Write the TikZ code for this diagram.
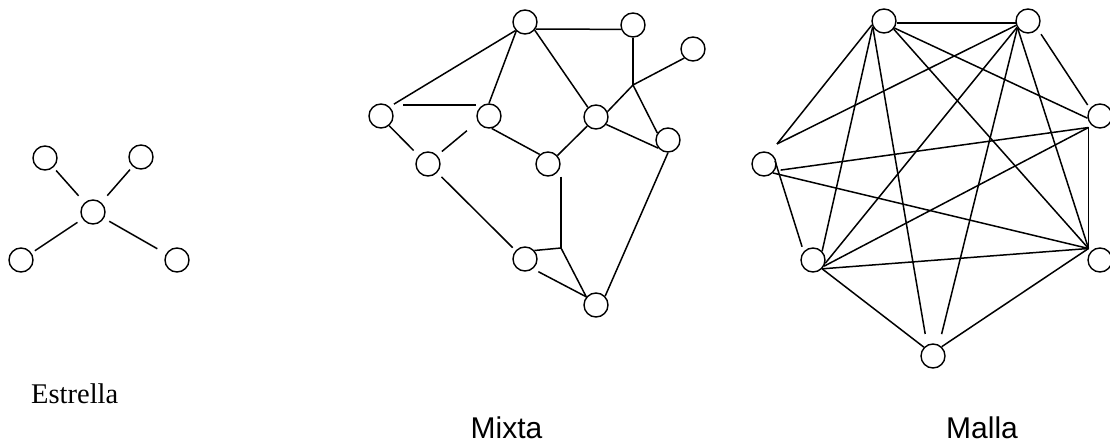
\documentclass[tikz,border=0pt]{standalone}
\usepackage{fontspec}
\setmainfont{Liberation Serif}
\newfontfamily\arialfont{Liberation Sans}
\begin{document}
\begin{tikzpicture}[x=1pt,y=-1pt,
  nd/.style={circle,draw,minimum size=24pt,inner sep=0pt,line width=1.4pt},
  ln/.style={line width=1.5pt},
  lbl/.style={inner sep=0pt}]
\useasboundingbox (0,0) rectangle (1110,443);
% ---------------- Estrella ----------------
\node[nd] (X)  at (93,212) {};
\node[nd] (TL) at (45,158) {};
\node[nd] (TR) at (141,157) {};
\node[nd] (BL) at (21,260) {};
\node[nd] (BR) at (177,260) {};
\draw[ln,shorten <=4pt,shorten >=9pt] (TL) -- (X);
\draw[ln,shorten <=4pt,shorten >=9pt] (TR) -- (X);
\draw[ln,shorten <=4pt,shorten >=6pt] (BL) -- (X);
\draw[ln,shorten <=10pt,shorten >=6pt] (BR) -- (X);
\node[lbl,anchor=base west] (lE) at (31,403) {\fontsize{28.5}{30}\selectfont Estrella};
% ---------------- Mixta ----------------
\node[nd] (A) at (525,22) {};
\node[nd] (B) at (633,25) {};
\node[nd] (C) at (693,49) {};
\node[nd] (D) at (381,116) {};
\node[nd] (E) at (489,116) {};
\node[nd] (F) at (596,117) {};
\node[nd] (G) at (668,140) {};
\node[nd] (H) at (428,164) {};
\node[nd] (I) at (548,164) {};
\node[nd] (J) at (525,259) {};
\node[nd] (K) at (596,305) {};
\coordinate (j1) at (633,85);
\coordinate (j2) at (561,248);
\draw[ln,shorten <=5pt] (D.47) -- (A.222);
\draw[ln,shorten <=16pt,shorten >=7pt] (D.60) -- (E.120);
\draw[ln] (A.226) -- (E.north);
\draw[ln] (A.-34) -- (B.200);
\draw[ln] (A.-40) -- (F.130);
\draw[ln] (B.south) -- (j1);
\draw[ln] (j1) -- (C.226);
\draw[ln] (j1) -- (F.25);
\draw[ln] (j1) -- (G.147);
\draw[ln] (F.-36) -- (G.220);
\draw[ln,shorten >=7pt] (D.-50) -- (H.138);
\draw[ln,shorten <=6pt,shorten >=14pt] (H.43) -- (E.207);
\draw[ln] (E.-78) -- (I.131);
\draw[ln] (I.42) -- (F.226);
\draw[ln,shorten <=6pt,shorten >=4pt] (H.-43) -- (J.138);
\draw[ln] (j2 |- I.south) -- (j2);
\draw[ln] (J.42) -- (j2);
\draw[ln] (j2) -- (K.140);
\draw[ln,shorten <=6pt] (J.-51) -- (K.140);
\draw[ln] (G.south) -- (K.44);
\node[lbl,anchor=base] (lM) at (506.5,438) {\arialfont\fontsize{30}{32}\selectfont Mixta};
% ---------------- Malla ----------------
\node[nd] (P1) at (884,21) {};
\node[nd] (P2) at (1028,21) {};
\node[nd] (P3) at (1100,116) {};
\node[nd] (P4) at (764,164) {};
\node[nd] (P5) at (813,260) {};
\node[nd] (P6) at (1100,260) {};
\node[nd] (P7) at (933,356) {};
\coordinate (q4) at (777,144);
\coordinate (q3) at (1088.5,127.5);
\coordinate (q6) at (1088.5,248.5);
\draw[ln] (P1.-10) -- (P2.190);
\draw[ln] (P1.198) -- (q4);
\draw[ln] (P2.200) -- (q4);
\draw[ln] (P1.207) -- (P5.44);
\draw[ln,shorten >=11pt] (P1.208) -- (P7.118);
\draw[ln] (P1.-34) -- (P3.190);
\draw[ln] (P1.-40) -- (q6);
\draw[ln] (P2.210) -- (P5.-15);
\draw[ln,shorten >=11pt] (P2.213) -- (P7.62);
\draw[ln] (P2.216) -- (q6);
\draw[ln,shorten <=6pt,shorten >=4pt] (P2.-40) -- (P3.143);
\draw[ln,shorten <=6pt] (P4.-33) -- (q3);
\draw[ln] (P4.-45) -- (q6);
\draw[ln,shorten <=6pt,shorten >=5pt] (P4.43) -- (P5.138);
\draw[ln] (q3) -- (q6);
\draw[ln] (P5.-29) -- (q3);
\draw[ln] (P5.-44) -- (q6);
\draw[ln] (P5.-44) -- (P7.136);
\draw[ln] (P7.47) -- (q6);
\node[lbl,anchor=base] (lL) at (982,438) {\arialfont\fontsize{30}{32}\selectfont Malla};
\end{tikzpicture}
\end{document}
